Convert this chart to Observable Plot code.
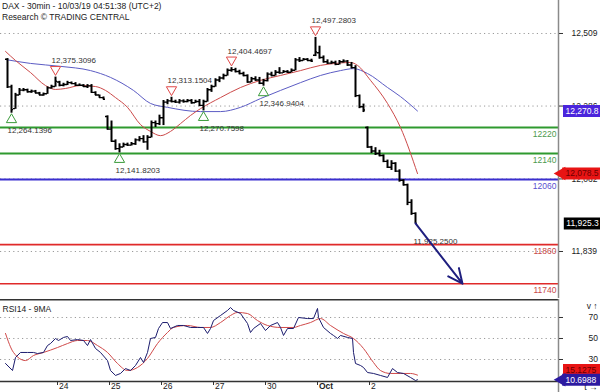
<!DOCTYPE html>
<html><head><meta charset="utf-8">
<script src="https://cdn.jsdelivr.net/npm/d3@7"></script>
<script src="https://cdn.jsdelivr.net/npm/@observablehq/plot@0.6"></script>
<style>
body{margin:0;background:#fff;width:600px;height:392px;overflow:hidden;position:relative;font-family:"Liberation Sans",Arial,sans-serif}
#main{position:absolute;left:0;top:0}
#rsi{position:absolute;left:0;top:299px}
.hdr{position:absolute;left:2px;font-size:8.5px;color:#222;white-space:nowrap;line-height:1}
svg{overflow:visible}
</style></head><body>
<div id="main"></div><div id="rsi"></div>
<div class="hdr" style="top:2px">DAX - 30min - 10/03/19 04:51:38 (UTC+2)</div>
<div class="hdr" style="top:13px">Research © TRADING CENTRAL</div>
<script>
// ---- data (30-min bars, 13 per day, Sep 23 .. Oct 2) ----
const dayLabels = ["24","25","26","27","30","Oct","2"];
const dayStartBar = [13,26,39,52,65,78,91];
const open  = [12430,12345,12278,12320,12335,12336,12330,12332,12326,12320,12324,12342,12346,
 12360,12350,12352,12358,12355,12350,12350,12346,12348,12328,12320,12312,12254,
 12215,12178,12155,12160,12168,12166,12170,12182,12186,12176,12190,12235,12232,
 12250,12298,12302,12300,12298,12302,12300,12303,12296,12300,12288,12300,12336,
 12346,12366,12372,12380,12396,12398,12392,12386,12380,12360,12370,12366,12356,
 12364,12384,12380,12390,12388,12392,12390,12396,12428,12426,12430,12426,12442,
 12450,12435,12422,12418,12420,12414,12422,12424,12412,12404,12318,12284,12220,
 12160,12148,12140,12134,12116,12098,12110,12086,12058,12044,11990,11956];
const high  = [12432,12350,12325,12340,12340,12338,12335,12334,12328,12326,12345,12350,12375,
 12362,12356,12362,12360,12358,12354,12352,12352,12352,12330,12320,12314,12256,
 12240,12182,12170,12172,12172,12174,12185,12192,12195,12195,12240,12240,12258,
 12303,12306,12313,12304,12306,12305,12306,12306,12304,12306,12304,12340,12350,
 12370,12376,12384,12400,12404,12402,12396,12390,12382,12374,12376,12374,12368,
 12388,12390,12395,12404,12395,12395,12400,12432,12435,12432,12432,12430,12497,
 12470,12440,12428,12424,12424,12426,12428,12426,12420,12410,12320,12292,12222,
 12162,12158,12150,12136,12120,12118,12112,12090,12060,12046,11998,11958];
const low   = [12340,12264,12276,12318,12330,12326,12325,12324,12318,12316,12322,12338,12344,
 12345,12345,12349,12352,12346,12346,12343,12340,12325,12318,12310,12305,12212,
 12175,12150,12142,12158,12162,12163,12165,12176,12172,12150,12188,12220,12226,
 12226,12290,12296,12294,12292,12295,12296,12292,12294,12284,12271,12298,12328,
 12344,12358,12366,12378,12390,12388,12382,12376,12356,12358,12362,12352,12347,
 12360,12376,12378,12384,12386,12386,12388,12394,12420,12424,12424,12420,12438,
 12430,12418,12414,12414,12410,12412,12418,12408,12400,12312,12278,12266,12156,
 12140,12134,12130,12112,12094,12088,12082,12052,12040,11980,11950,11925];
const close = [12345,12275,12320,12335,12336,12330,12332,12326,12320,12324,12342,12346,12362,
 12350,12352,12358,12355,12350,12350,12346,12348,12328,12320,12312,12307,12215,
 12178,12155,12160,12168,12166,12170,12182,12186,12176,12190,12235,12232,12250,
 12298,12302,12300,12298,12302,12300,12303,12296,12300,12288,12300,12336,12346,
 12366,12372,12380,12396,12398,12392,12386,12380,12360,12370,12366,12356,12364,
 12384,12380,12390,12388,12392,12390,12396,12428,12426,12430,12426,12424,12452,
 12435,12422,12418,12420,12414,12422,12424,12412,12404,12318,12284,12274,12160,
 12148,12140,12134,12116,12098,12110,12086,12058,12044,11990,11956,11925.25];

// moving averages on price (bar position, value)
const maRedPos  = [0,2.5,6.25,10,12.5,15,18.75,22.5,25,27.5,30.5,33.75,36.25,38.75,41.25,43.75,46.25,48.75,53.75,58.75,63.75,68.75,73.75,78.75,82.5,86.25,88,91.25,95.5,98.75,103];
const maRedVal  = [12454,12426,12389,12349,12337,12340,12349,12346,12334,12312,12282,12229,12208,12195,12208,12232,12257,12278,12312,12343,12365,12380,12395,12411,12417,12420,12411,12365,12294,12220,12078.5];
const maBluePos = [0,6.25,13.75,21.25,26.25,32,36.25,40.5,48.75,53.75,58.75,63.75,68.75,73.75,78.75,83.75,87,90.5,95.5,98.75,103];
const maBlueVal = [12429,12417,12408,12395,12374,12334,12294,12282,12269,12269,12282,12309,12334,12358,12380,12395,12401,12386,12343,12315,12270.8];

// key levels
const levels = [12220,12140,12060,11860,11740];
const levelKind = ["res","res","pivot","sup","sup"];

// swing annotations
const highBars = [12,41,56,77];
const highVals = [12375.3096,12313.1504,12404.4697,12497.2803];
const lowBars  = [1,28,49,64];
const lowVals  = [12264.1396,12141.8203,12270.7598,12346.9404];

// projection arrow target
const targetBarsAhead = 11.75;
const targetPrice = 11740;

// price axis ticks
const priceTicks = [12509,12286,12062,11839];

// last values (tags)
const lastBlueMA = 12270.8, lastRedMA = 12078.5, lastPrice = 11925.25;

// RSI(14) and its 9-period MA
const rsiPos = [0,1.75,2.5,3.75,5.5,7,8,9.5,10.5,11.25,12.5,13.25,14.5,15.5,16.25,18,19.5,20.5,21.25,22.5,23.75,25.5,26.25,27.5,28.75,30,31.25,32.5,33.75,34.5,35.5,36.25,37.5,38.25,39.25,40.5,41.25,43,44.5,46.25,48,49.5,50.5,51.25,52,53.75,55.5,56.25,57,58.75,60.5,61.25,62,63.75,65,66.25,68,68.75,69.5,70.5,72,73.25,75.5,77,78,78.25,79.5,81.25,82,83,83.75,85.5,86.75,87,87.5,88.75,89.5,90.5,92,93.75,95.5,96.75,98,99.5,101.25,102.5,103];
const rsiVal = [26.2,19.5,31.9,36.7,36.7,36.7,35.7,36.7,43.3,45.2,50,48.1,51,51.9,48.1,49,48.1,43.3,49,40.5,36.7,29,19.5,14.8,16.7,21.4,19.5,24.3,31.9,27.1,36.7,50,51,59.5,65.2,65.2,59.5,62.4,62.4,60.5,60.5,60.5,54.8,59.5,67.1,71.9,76.7,79.5,76.7,73.8,64.3,55.7,59.5,64.3,57.6,62.4,65.2,60.5,52.9,59.5,59.5,70,69,69,78.6,70,60.5,54.8,52.9,50,52.9,51,50,36.7,26.2,24.3,22.4,17.6,16.7,14.8,12.9,21.4,17.6,16.7,12.9,10,10.6988];
const rsiMaPos = [0,2,5,7,9.5,13,15.5,18,20.5,23,25.5,28,30.5,33,35.5,38,40.5,42,45.5,48.75,51.25,53.75,56.25,58,60.5,63,65.5,68.75,72,73.75,76.25,78.75,81.25,84.5,87,89.5,92,93.75,96.25,98.75,101.25,103];
const rsiMaVal = [54.8,36.7,29,33.8,36.7,41.4,45.2,48.1,48.1,43.3,36.7,26.2,19.5,22.4,31,45.2,55.7,60.5,62.4,60.5,60.5,65.2,71.9,74.8,73.8,67.1,62.4,60.5,60.5,62.4,65.2,69,62.4,54.8,50,40.5,27.1,19.5,16.7,16.7,16.7,15.1275];
const rsiTicks = [70,50,30];
const lastRsi = 10.6988, lastRsiMA = 15.1275;

// ---- build ----
const bars = open.map((o,i)=>({t:i+0.5,o,h:high[i],l:low[i],c:close[i]}));
const zip = (p,v)=>p.map((x,i)=>({t:x,v:v[i]}));
const xDomain = [-1.25, 138.25];
const lastT = bars[bars.length-1].t;
const levelColor = {res:"#2f9a2f", pivot:"#3a2fcf", sup:"#e02a2a"};
const levelText  = {res:"#4d9a4d", pivot:"#5a4fcf", sup:"#c84848"};
const font = '"Liberation Sans", Arial, sans-serif';
const fmt4 = d3.format(",.4f");
// tag geometry (in bar units beyond the last bar, in the right margin)
const tagX1 = 139.5, tagX2 = 148.75, tagTxt = 140, tipX = 139.0;

const main = Plot.plot({
  width:600, height:299, marginTop:0, marginBottom:1, marginLeft:0, marginRight:42,
  x:{domain:xDomain, axis:null},
  y:{domain:[11694.5,12610.4], axis:null},
  color:{type:"identity"},
  style:{fontFamily:font, fontSize:"8.5px", background:"transparent", color:"#222"},
  marks:[
    Plot.gridY(priceTicks,{stroke:"#9a9a9a",strokeOpacity:1,strokeDasharray:"1.2,3.2"}),
    Plot.ruleY(levels,{y:d=>d, stroke:(d,i)=>levelColor[levelKind[i]], strokeWidth:(d,i)=>levelKind[i]==="sup"?1.6:2}),
    Plot.text(levels,{y:d=>d, text:d=>String(d), frameAnchor:"right", textAnchor:"end", dx:-2, dy:6.5, fill:(d,i)=>levelText[levelKind[i]]}),
    Plot.line(zip(maBluePos,maBlueVal),{x:"t",y:"v",stroke:"#5c5cc4",strokeWidth:1,curve:"monotone-x"}),
    Plot.line(zip(maRedPos,maRedVal),{x:"t",y:"v",stroke:"#cc4a4a",strokeWidth:1,curve:"monotone-x"}),
    Plot.ruleX(bars,{x:"t",y1:"l",y2:"h",stroke:"#000",strokeWidth:2}),
    Plot.ruleY(bars,{y:"o",x1:d=>d.t-0.5,x2:"t",stroke:"#000",strokeWidth:1.4}),
    Plot.ruleY(bars,{y:"c",x1:"t",x2:d=>d.t+0.5,stroke:"#000",strokeWidth:1.4}),
    Plot.dot(highBars,{x:d=>d+0.5,y:(d,i)=>highVals[i],symbol:"triangle",rotate:180,r:3.8,stroke:"#e04848",fill:"white",strokeWidth:1,dy:-7.5}),
    Plot.text(highBars,{x:d=>d+0.5,y:(d,i)=>highVals[i],text:(d,i)=>fmt4(highVals[i]),textAnchor:"start",dx:-4,dy:-16.5,fill:"#333",fontSize:8}),
    Plot.dot(lowBars,{x:d=>d+0.5,y:(d,i)=>lowVals[i],symbol:"triangle",r:3.8,stroke:"#3c9c3c",fill:"white",strokeWidth:1,dy:6.5}),
    Plot.text(lowBars,{x:d=>d+0.5,y:(d,i)=>lowVals[i],text:(d,i)=>fmt4(lowVals[i]),textAnchor:"start",dx:-4,dy:17.5,fill:"#333",fontSize:8}),
    Plot.text([lastPrice],{x:lastT,y:d=>d,text:d=>fmt4(d),textAnchor:"start",dx:-2,dy:18,fill:"#333",fontSize:8}),
    Plot.arrow([0],{x1:lastT,y1:lastPrice,x2:lastT+targetBarsAhead,y2:targetPrice,stroke:"#1f1f7f",strokeWidth:2,headLength:12,headAngle:50}),
    Plot.ruleX([xDomain[1]],{stroke:"#8a8a8a",strokeWidth:1.5}),
    Plot.axisY(priceTicks,{anchor:"right",tickSize:4,tickPadding:9,tickFormat:d3.format(","),stroke:"#333"}),
    Plot.ruleY([lastBlueMA],{x1:tagX1,x2:tagX2,stroke:"#4a25dc",strokeWidth:12}),
    Plot.text([lastBlueMA],{x:tagTxt,y:d=>d,text:d=>d3.format(",.1f")(d),textAnchor:"start",fill:"white"}),
    Plot.ruleY([lastRedMA],{x1:tipX+0.3,x2:tagX2,stroke:"#e81414",strokeWidth:12}),
    Plot.dot([lastRedMA],{x:tipX,y:d=>d,symbol:"triangle",rotate:-90,r:5,fill:"#e81414"}),
    Plot.text([lastRedMA],{x:tagTxt,y:d=>d,text:d=>d3.format(",.1f")(d),textAnchor:"start",fill:"#6a0000"}),
    Plot.ruleY([lastPrice],{x1:tagX1+0.2,x2:tagX2,stroke:"#000",strokeWidth:12}),
    Plot.text([lastPrice],{x:tagTxt+0.2,y:d=>d,text:d=>d3.format(",.1f")(d),textAnchor:"start",fill:"white"})
  ]
});
document.getElementById("main").appendChild(main);

const rsi = Plot.plot({
  width:600, height:93, marginTop:0, marginBottom:11, marginLeft:0, marginRight:42,
  x:{domain:xDomain, axis:null},
  y:{domain:[9.05,87.14], axis:null},
  style:{fontFamily:font, fontSize:"8.5px", background:"transparent", color:"#222"},
  marks:[
    Plot.gridY(rsiTicks,{stroke:"#9a9a9a",strokeOpacity:1,strokeDasharray:"1.2,3.2"}),
    Plot.line(zip(rsiMaPos,rsiMaVal),{x:"t",y:"v",stroke:"#d04a4a",strokeWidth:1,curve:"monotone-x"}),
    Plot.line(zip(rsiPos,rsiVal),{x:"t",y:"v",stroke:"#1c1c6e",strokeWidth:1}),
    Plot.ruleY([87.14],{stroke:"#333",strokeWidth:1.5,dy:0.25}),
    Plot.ruleY([9.05],{stroke:"#333",strokeWidth:1.5}),
    Plot.ruleX([xDomain[1]],{stroke:"#8a8a8a",strokeWidth:1.5,insetBottom:-11}),
    Plot.axisY(rsiTicks,{anchor:"right",tickSize:4,tickPadding:26,tickFormat:d=>String(d),stroke:"#333"}),
    Plot.axisX(dayStartBar,{anchor:"bottom",tickSize:4,tickFormat:()=>"",stroke:"#333"}),
    Plot.text(dayStartBar.filter((d,i)=>dayLabels[i]!=="Oct"),{x:d=>d,text:d=>dayLabels[dayStartBar.indexOf(d)],frameAnchor:"bottom",textAnchor:"start",dx:1.5,dy:7,fill:"#222"}),
    Plot.text(dayStartBar.filter((d,i)=>dayLabels[i]==="Oct"),{x:d=>d,text:d=>dayLabels[dayStartBar.indexOf(d)],frameAnchor:"bottom",textAnchor:"start",dx:1.5,dy:7,fill:"#222",fontWeight:"bold"}),
    Plot.text(["RSI14 - 9MA"],{frameAnchor:"top-left",dx:2,dy:6,fill:"#222"}),
    Plot.ruleY([lastRsiMA],{x1:tagX1,x2:tagX2,stroke:"#e81414",strokeWidth:12,dy:-5}),
    Plot.text([lastRsiMA],{x:tagTxt,y:d=>d,text:d=>String(d),textAnchor:"start",fill:"#6a0000",dy:-5}),
    Plot.ruleY([lastRsi],{x1:tipX+0.3,x2:tagX2,stroke:"#2c1aa0",strokeWidth:12}),
    Plot.dot([lastRsi],{x:tipX,y:d=>d,symbol:"triangle",rotate:-90,r:5,fill:"#2c1aa0"}),
    Plot.text([lastRsi],{x:tagTxt,y:d=>d,text:d=>String(d),textAnchor:"start",fill:"white"})
  ]
});
document.getElementById("rsi").appendChild(rsi);
</script>
</body></html>
